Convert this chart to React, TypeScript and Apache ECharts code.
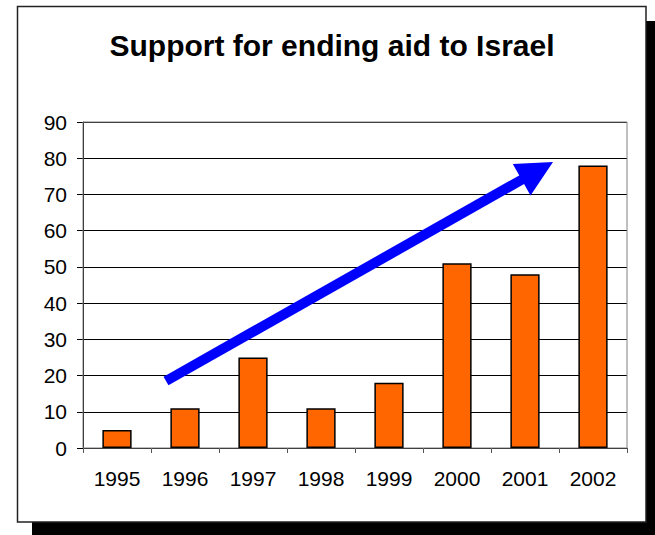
import React, { useEffect, useRef } from "react";
import * as echarts from "echarts";

const years = ["1995", "1996", "1997", "1998", "1999", "2000", "2001", "2002"];
const support = [5, 11, 25, 11, 18, 51, 48, 78];
const titleText = "Support for ending aid to Israel";

const FONT = "'Liberation Sans', Arial, Helvetica, sans-serif";

export default function App() {
  const ref = useRef<HTMLDivElement>(null);
  useEffect(() => {
    if (!ref.current) return;
    const chart = echarts.init(ref.current, undefined, { renderer: "svg" });
    // arrow geometry
    const tail = [166, 381];
    const tip = [553, 162];
    const dx = tip[0] - tail[0];
    const dy = tip[1] - tail[1];
    const len = Math.sqrt(dx * dx + dy * dy);
    const ux = dx / len;
    const uy = dy / len;
    const headLen = 36;
    const headHalf = 18;
    const base = [tip[0] - ux * headLen, tip[1] - uy * headLen];
    const px = -uy;
    const py = ux;
    chart.setOption({
      animation: false,
      backgroundColor: "#ffffff",
      textStyle: { fontFamily: FONT },
      grid: {
        left: 83,
        top: 122,
        right: 28,
        bottom: 87,
        show: true,
        borderColor: "#808080",
        borderWidth: 1,
        z: 3,
      },
      xAxis: {
        type: "category",
        data: years,
        boundaryGap: true,
        axisLine: { show: true, lineStyle: { color: "#000000", width: 1 } },
        axisTick: { show: true, length: 5, alignWithLabel: false, lineStyle: { color: "#555555" } },
        axisLabel: { color: "#000000", fontSize: 21, fontFamily: FONT, margin: 20 },
        splitLine: { show: false },
      },
      yAxis: {
        type: "value",
        min: 0,
        max: 90,
        interval: 10,
        axisLine: { show: true, lineStyle: { color: "#000000", width: 1 } },
        axisTick: { show: true, length: 6, lineStyle: { color: "#000000" } },
        axisLabel: { color: "#000000", fontSize: 21, fontFamily: FONT, margin: 16 },
        splitLine: { show: true, lineStyle: { color: "#000000", width: 1 } },
      },
      series: [
        {
          type: "bar",
          data: support,
          barWidth: "43%",
          itemStyle: { color: "#FF6600", borderColor: "#000000", borderWidth: 1.5 },
          z: 4,
        },
      ],
      graphic: [
        {
          type: "rect",
          z: -10,
          silent: true,
          shape: { x: 32, y: 21, width: 640, height: 530 },
          style: { fill: "#000000" },
        },
        {
          type: "rect",
          z: -9,
          silent: true,
          shape: { x: 17.5, y: 6.5, width: 628.5, height: 515.5 },
          style: { fill: "#ffffff", stroke: "#222222", lineWidth: 1.5 },
        },
        {
          type: "text",
          z: 10,
          x: 332,
          y: 45,
          style: {
            text: titleText,
            fill: "#000000",
            font: `bold 30px ${FONT}`,
            textAlign: "center",
            textVerticalAlign: "middle",
          },
        },
        {
          type: "line",
          z: 20,
          shape: { x1: tail[0], y1: tail[1], x2: base[0] + ux * 2, y2: base[1] + uy * 2 },
          style: { stroke: "#0000FF", lineWidth: 10, lineCap: "butt" },
        },
        {
          type: "polygon",
          z: 20,
          shape: {
            points: [
              tip,
              [base[0] + px * headHalf, base[1] + py * headHalf],
              [base[0] - px * headHalf, base[1] - py * headHalf],
            ],
          },
          style: { fill: "#0000FF" },
        },
      ],
    });
    return () => chart.dispose();
  }, []);
  return (
    <div
      ref={ref}
      style={{ position: "absolute", left: 0, top: 0, width: 655, height: 535, background: "#ffffff" }}
    />
  );
}
